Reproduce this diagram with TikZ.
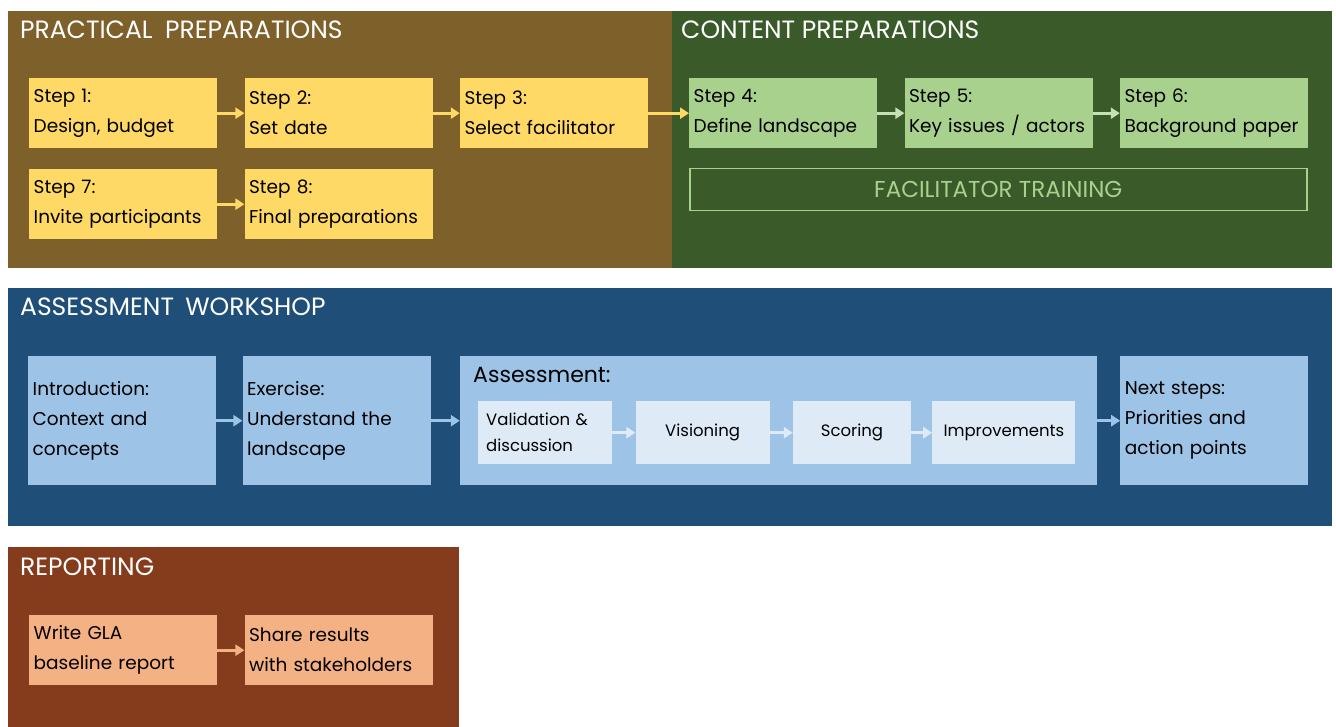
\documentclass[tikz,border=0pt]{standalone}
\usepackage{fontspec}
\setmainfont{Poppins}
\usetikzlibrary{
arrows.meta,
positioning
}
% panel and box colours
\definecolor{pracbg}{HTML}{7E602B}
\definecolor{contbg}{HTML}{3A5A29}
\definecolor{workbg}{HTML}{1F4E79}
\definecolor{repbg}{HTML}{843C1C}
\definecolor{stepyellow}{HTML}{FFD966}
\definecolor{stepgreen}{HTML}{A9D18E}
\definecolor{arrowgreen}{HTML}{C5E0B4}
\definecolor{stepblue}{HTML}{9DC3E6}
\definecolor{paleblue}{HTML}{DEEBF7}
\definecolor{steporange}{HTML}{F4B183}
\newcommand{\boxfont}{\fontsize{18.5}{30}\selectfont\hyphenpenalty=10000}
\newcommand{\smallboxfont}{\fontsize{16.5}{26}\selectfont\hyphenpenalty=10000}
\tikzset{>={Triangle[length=9pt,width=11pt]}}

\begin{document}
\begin{tikzpicture}[x=1pt, y=-1pt, node distance=27pt,
	title/.style={anchor=west, inner sep=0pt, text=white, font=\fontsize{25}{25}\selectfont},
	stepbox/.style={fill=#1, minimum width=188pt, minimum height=70pt, text width=179pt,
		inner xsep=4.5pt, align=left, anchor=north west, font=\boxfont},
	tallbox/.style={stepbox=#1, minimum height=129pt},
	subbox/.style={fill=paleblue, minimum width=134pt, minimum height=63pt, inner xsep=8pt,
		anchor=north west, font=\smallboxfont},
	flow/.style={->, line width=3pt, draw=#1}]
	\useasboundingbox (0,0) rectangle (1336,727);

	% background panels
	\fill[pracbg] (8,11) rectangle (672,268);
	\fill[contbg] (672,11) rectangle (1332,268);
	\fill[workbg] (8,288) rectangle (1332,526);
	\fill[repbg]  (8,547) rectangle (459,727);

	\node[title] (practitle) at (20,30)  {PRACTICAL\hspace{0.5em}PREPARATIONS};
	\node[title] (conttitle) at (681,30) {CONTENT PREPARATIONS};
	\node[title] (worktitle) at (20,307) {ASSESSMENT\hspace{0.45em}WORKSHOP};
	\node[title] (reptitle)  at (20,567) {REPORTING};

	% practical and content preparations
	\node[stepbox=stepyellow] (s1) at (29,78) {Step 1:\\Design, budget};
	\node[stepbox=stepyellow, right=of s1.north east, anchor=north west] (s2) {Step 2:\\Set date};
	\node[stepbox=stepyellow, right=of s2.north east, anchor=north west] (s3) {Step 3:\\Select facilitator};
	\node[stepbox=stepgreen] (s4) at (689,78) {Step 4:\\Define landscape};
	\node[stepbox=stepgreen, right=of s4.north east, anchor=north west] (s5) {Step 5:\\Key issues / actors};
	\node[stepbox=stepgreen, right=of s5.north east, anchor=north west] (s6) {Step 6:\\Background paper};
	\node[stepbox=stepyellow] (s7) at (29,169) {Step 7:\\Invite participants};
	\node[stepbox=stepyellow, right=of s7.north east, anchor=north west] (s8) {Step 8:\\Final preparations};
	\node[draw=stepgreen, line width=1.5pt, minimum width=617pt, minimum height=42pt, anchor=north west,
		text=stepgreen, font=\fontsize{23}{23}\selectfont] (train) at (689,168) {FACILITATOR TRAINING};

	\draw[flow=stepyellow] (s1) -- (s2);
	\draw[flow=stepyellow] (s2) -- (s3);
	\draw[flow=stepyellow] (s3) -- (s4);
	\draw[flow=arrowgreen] (s4) -- (s5);
	\draw[flow=arrowgreen] (s5) -- (s6);
	\draw[flow=stepyellow] (s7) -- (s8);

	% assessment workshop
	\node[tallbox=stepblue] (intro) at (28,356) {Introduction:\\Context and\\concepts};
	\node[tallbox=stepblue, right=26pt of intro.north east, anchor=north west] (exer) {Exercise:\\Understand the\\landscape};
	\node[fill=stepblue, minimum width=637pt, minimum height=129pt,
		right=29pt of exer.north east, anchor=north west] (assess) {};
	\node[tallbox=stepblue, right=23pt of assess.north east, anchor=north west] (next) {Next steps:\\Priorities and\\action points};
	\node[anchor=west, inner sep=0pt, font=\fontsize{22}{22}\selectfont] (assesstitle) at (473,375) {Assessment:};
	\node[subbox, text width=118pt, align=left] (valid) at (478,401) {Validation \&\\discussion};
	\node[subbox, right=23pt of valid.north east, anchor=north west] (vision) {Visioning};
	\node[subbox, minimum width=118pt, right=23pt of vision.north east, anchor=north west] (score) {Scoring};
	\node[subbox, minimum width=143pt, right=21pt of score.north east, anchor=north west] (improve) {Improvements};

	\draw[flow=stepblue] (intro) -- (exer);
	\draw[flow=stepblue] (exer) -- (assess);
	\draw[flow=stepblue] (assess) -- (next);
	\draw[flow=paleblue] (valid) -- (vision);
	\draw[flow=paleblue] (vision) -- (score);
	\draw[flow=paleblue] (score) -- (improve);

	% reporting
	\node[stepbox=steporange] (report) at (29,615) {Write GLA\\baseline report};
	\node[stepbox=steporange, right=of report.north east, anchor=north west] (share) {Share results\\with stakeholders};
	\draw[flow=steporange] (report) -- (share);
\end{tikzpicture}
\end{document}
